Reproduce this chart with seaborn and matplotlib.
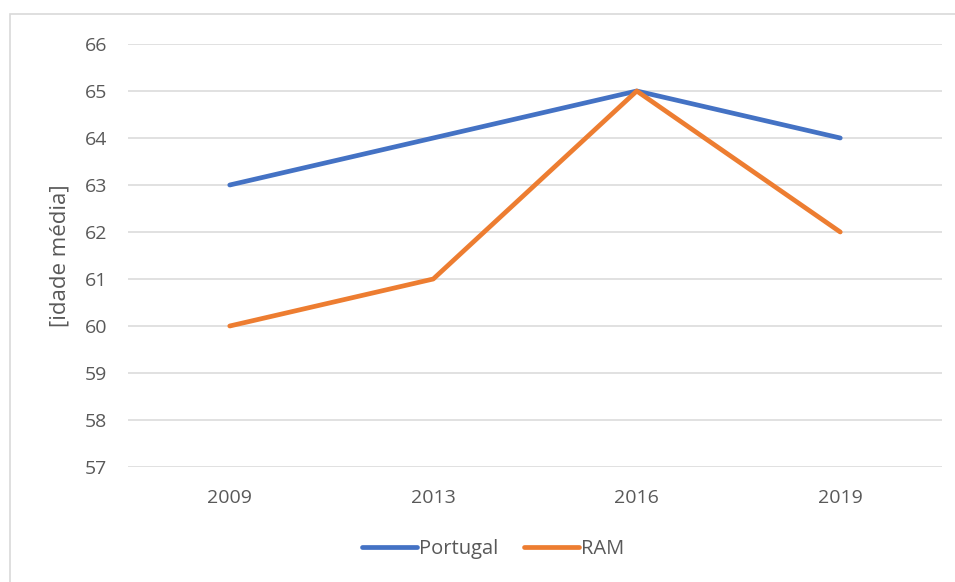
import pandas as pd
import matplotlib.pyplot as plt
import seaborn as sns
from matplotlib.patches import Rectangle

# dados
anos = ['2009', '2013', '2016', '2019']
portugal = [63, 64, 65, 64]
ram = [60, 61, 65, 62]

df = pd.DataFrame({
    'ano': anos * 2,
    'idade': portugal + ram,
    'serie': ['Portugal'] * len(anos) + ['RAM'] * len(anos),
})
df['pos'] = df['ano'].map({a: i for i, a in enumerate(anos)})

sns.set_style('white')
plt.rcParams['font.family'] = ['Open Sans', 'DejaVu Sans']

fig = plt.figure(figsize=(9.55, 5.82), dpi=100)
ax = fig.add_axes([128 / 955, 1 - 467 / 582, (942 - 128) / 955, (467 - 44) / 582])

# moldura do grafico
fig.patches.append(Rectangle((10 / 955, -0.05), 1.0, 1 - 14 / 582 + 0.05,
                             transform=fig.transFigure, fill=False,
                             edgecolor='#d9d9d9', linewidth=1.2))

sns.lineplot(data=df, x='pos', y='idade', hue='serie',
             palette={'Portugal': '#4472C4', 'RAM': '#ED7D31'},
             linewidth=3.4, ax=ax, legend=False)

ax.set_xlim(-0.5, 3.5)
ax.set_ylim(57, 66)
ax.set_xticks(range(len(anos)))
ax.set_xticklabels(anos)
ax.set_yticks(range(57, 67))
ax.grid(axis='y', color='#d9d9d9', linewidth=1.1)
ax.set_axisbelow(True)
for s in ax.spines.values():
    s.set_visible(False)
ax.tick_params(axis='both', length=0, labelsize=14, labelcolor='#595959')
ax.tick_params(axis='y', pad=15)
ax.tick_params(axis='x', pad=16)
ax.set_xlabel('')
ax.set_ylabel('[idade média]', fontsize=16, color='#595959', labelpad=10)

handles = [plt.Line2D([], [], color='#4472C4', linewidth=3.4, solid_capstyle='round'),
           plt.Line2D([], [], color='#ED7D31', linewidth=3.4, solid_capstyle='round')]
fig.legend(handles, ['Portugal', 'RAM'], loc='center', bbox_to_anchor=(493 / 955, 1 - 549 / 582),
           ncol=2, frameon=False, fontsize=14.5, labelcolor='#595959',
           handlelength=2.75, handletextpad=0.1, columnspacing=1.25)

plt.savefig('out.png', dpi=100)
